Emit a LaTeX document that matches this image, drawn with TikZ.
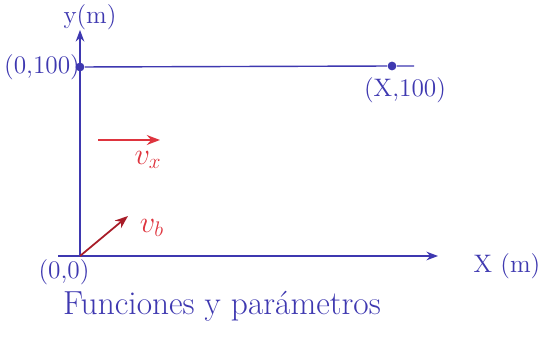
\documentclass[tikz,border=0pt]{standalone}
\usepackage{tikz}
\usetikzlibrary{arrows.meta,calc}
\definecolor{pen}{RGB}{62,56,176}
\definecolor{penred}{RGB}{222,52,62}
\definecolor{pendark}{RGB}{168,28,40}

\begin{document}
\begin{tikzpicture}[
  x=0.02cm, y=-0.02cm,
  >=Stealth, line width=.8pt,
  axis/.style={draw=pen,->},
  vec/.style={draw=penred,->,line width=1pt},
  dot/.style={circle,fill=pen,inner sep=0pt,minimum size=5pt},
  lab/.style={text=pen,font=\Large},
  rlab/.style={text=penred,font=\LARGE}
]
  \useasboundingbox (0,0) rectangle (550,347);
  \coordinate (o) at (80,256);
  \coordinate (ytop) at (80,30);
  \coordinate (xend) at (438,256);
  \coordinate (xstart) at (58,256);
  \node[dot] (p0) at (80,67) {};
  \node[dot] (p1) at (392,66) {};
  \coordinate (hend) at (414,66);
  \draw[axis] (o) -- (ytop);
  \draw[axis] (xstart) -- (xend);
  \draw[pen] (p0) -- (p1) -- (hend);
  \node[lab] (ylab) at (90,17) {y(m)};
  \node[lab] (xlab) at (507,266) {X (m)};
  \node[lab] (l0) at (42,67) {(0,100)};
  \node[lab] (l1) at (405,90) {(X,100)};
  \node[lab] (lo) at (64,272) {(0,0)};
  \node[lab,font=\fontsize{19}{22}\selectfont] (title) at (222,306) {Funciones y parámetros};
  % velocidades
  \coordinate (vx0) at (98,140);
  \coordinate (vx1) at (160,140);
  \coordinate (vb1) at (128,216);
  \draw[vec] (vx0) -- (vx1);
  \draw[vec,draw=pendark] (o) -- (vb1);
  \node[rlab] (vxlab) at (148,160) {$v_x$};
  \node[rlab] (vblab) at (152,228) {$v_b$};
\end{tikzpicture}
\end{document}
